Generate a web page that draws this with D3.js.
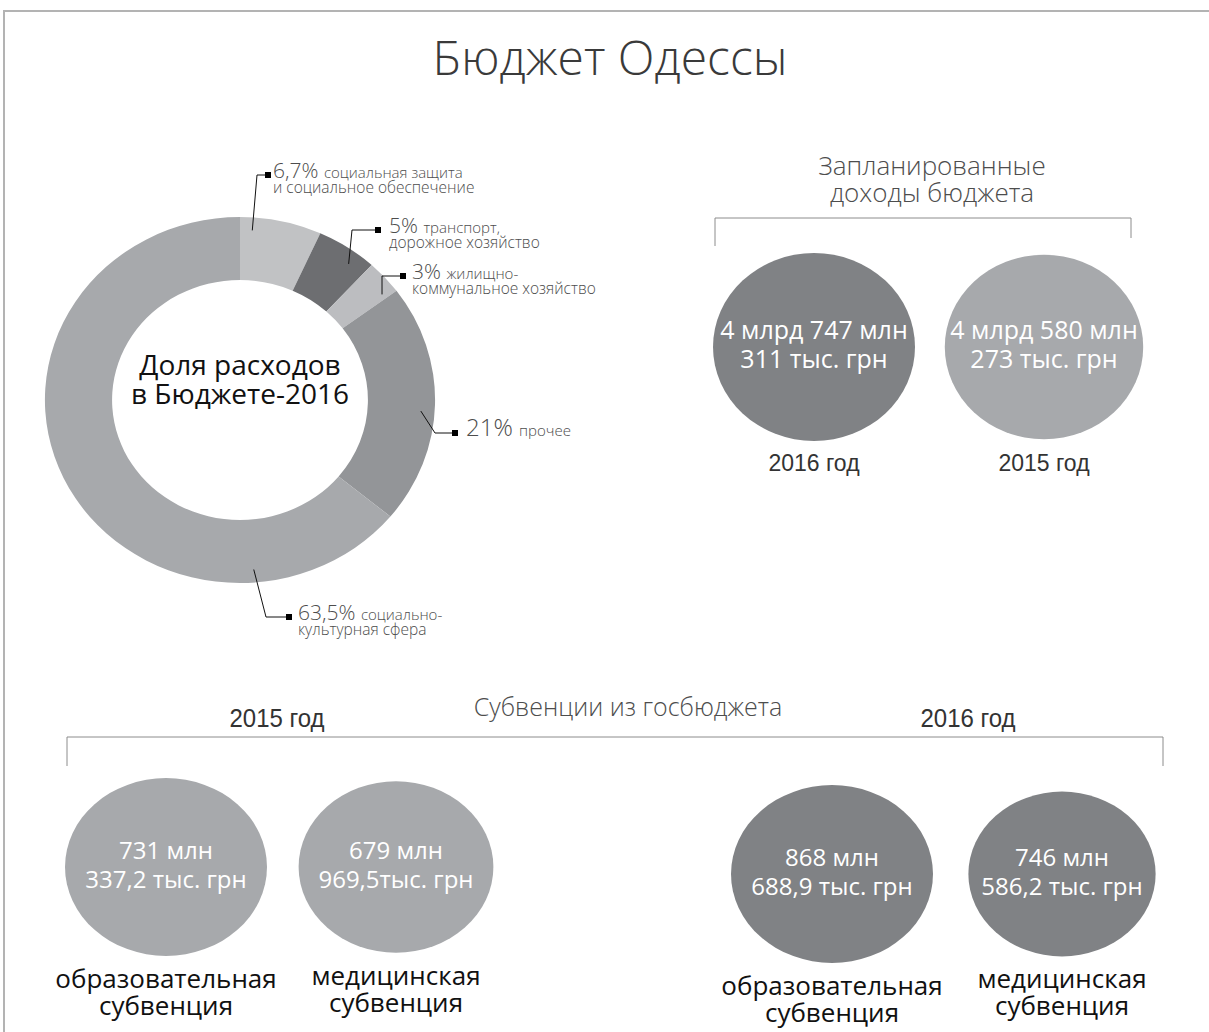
<!DOCTYPE html>
<html>
<head>
<meta charset="utf-8">
<script src="https://cdn.jsdelivr.net/npm/d3@7"></script>
<style>
body { margin: 0; background: #fff; }
svg { display: block; }
.hand { font-family: 'Open Sans', 'Noto Sans', sans-serif; }
.plain { font-family: 'Liberation Sans', Arial, sans-serif; }
</style>
</head>
<body>
<svg id="chart" width="1209" height="1032"></svg>
<script>
(function() {
'use strict';

// доля расходов, %
var sharePct = [6.7, 5, 3, 21, 63.5];
var sharePctText = ['6,7%', '5%', '3%', '21%', '63,5%'];
var shareText = [
    ['социальная защита', 'и социальное обеспечение'],
    ['транспорт,', 'дорожное хозяйство'],
    ['жилищно-', 'коммунальное хозяйство'],
    ['прочее'],
    ['социально-', 'культурная сфера']
];

// запланированные доходы, млн грн
var incomeYears = ['2016', '2015'];
var incomeValues = [4747.311, 4580.273];
var incomeText = [['4 млрд 747 млн', '311 тыс. грн'], ['4 млрд 580 млн', '273 тыс. грн']];

// субвенции, млн грн
var subYears = ['2015', '2016'];
var subKinds = [['образовательная', 'субвенция'], ['медицинская', 'субвенция']];
var subValues2015 = [731.3372, 679.9695];
var subValues2016 = [868.6889, 746.5862];
var subText2015 = [['731 млн', '337,2 тыс. грн'], ['679 млн', '969,5тыс. грн']];
var subText2016 = [['868 млн', '688,9 тыс. грн'], ['746 млн', '586,2 тыс. грн']];

// styles
var shareColors = ['#c1c2c4', '#6d6e71', '#bcbdc0', '#939598', '#a7a9ac'];
var yearColors = {'2016': '#808285', '2015': '#a7a9ac'};

var svg = d3.select('#chart');

// frame
svg.append('path')
    .attr('d', 'M4,1032 V11 H1209')
    .attr('fill', 'none')
    .attr('stroke', '#b3b3b3')
    .attr('stroke-width', 2);

svg.append('text')
    .attr('class', 'hand')
    .attr('x', 610).attr('y', 75)
    .attr('text-anchor', 'middle')
    .attr('font-size', 48)
    .attr('font-weight', 300)
    .attr('fill', '#3a3a3a')
    .text('Бюджет Одессы');

// ---- donut ----
var cx = 240, cy = 400, sx = 1.066;
var pie = d3.pie().sort(null).value(function(d) { return d; });
var arcs = pie(sharePct);
var arc = d3.arc().innerRadius(120).outerRadius(183);

var donut = svg.append('g')
    .attr('transform', 'translate(' + cx + ',' + cy + ') scale(' + sx + ',1)');
donut.selectAll('path')
    .data(arcs)
    .enter()
    .append('path')
    .attr('d', arc)
    .attr('fill', function(d, i) { return shareColors[i]; });

var centerText = svg.append('text')
    .attr('class', 'hand')
    .attr('text-anchor', 'middle')
    .attr('font-size', 28)
    .attr('fill', '#111');
centerText.append('tspan').attr('x', cx).attr('y', 375).text('Доля расходов');
centerText.append('tspan').attr('x', cx).attr('y', 404).text('в Бюджете-2016');

// leader layout: position inside slice, elbow and square offsets from the donut centre
var leaders = [
    {t: 0.16, ex: 17, ey: -225, qx: 28, gap: 5},
    {t: 0.69, ex: 112, ey: -170, qx: 138, gap: 11},
    {t: 0.84, ex: 142, ey: -124, qx: 163, gap: 9},
    {t: 0.53, ex: 195, ey: 33, qx: 215, gap: 11},
    {t: 0.2, ex: 26, ey: 217, qx: 49, gap: 9}
];

var labelG = svg.append('g').selectAll('g')
    .data(arcs)
    .enter()
    .append('g');

labelG.append('polyline')
    .attr('fill', 'none')
    .attr('stroke', '#111')
    .attr('stroke-width', 1)
    .attr('points', function(d, i) {
        var L = leaders[i];
        var a = d.startAngle + L.t * (d.endAngle - d.startAngle);
        var x0 = cx + Math.sin(a) * 170 * sx;
        var y0 = cy - Math.cos(a) * 170;
        return [[x0, y0], [cx + L.ex, cy + L.ey], [cx + L.qx, cy + L.ey]].join(' ');
    });

labelG.append('rect')
    .attr('width', 6).attr('height', 6)
    .attr('fill', '#000')
    .attr('x', function(d, i) { return cx + leaders[i].qx - 3; })
    .attr('y', function(d, i) { return cy + leaders[i].ey - 3; });

labelG.each(function(d, i) {
    var L = leaders[i];
    var tx = cx + L.qx + L.gap;
    var ty = cy + L.ey + 3;
    var t = d3.select(this).append('text')
        .attr('class', 'hand')
        .attr('font-weight', 300)
        .attr('fill', '#4d4d4d');
    var first = t.append('tspan').attr('x', tx).attr('y', ty);
    first.append('tspan')
        .attr('font-size', sharePct[i] === 21 ? 24 : 21)
        .text(sharePctText[i] + ' ');
    first.append('tspan').attr('font-size', 15).text(shareText[i][0]);
    if (shareText[i][1]) {
        t.append('tspan').attr('x', tx).attr('y', ty + 15)
            .attr('font-size', 15.5)
            .text(shareText[i][1]);
    }
});

// ---- запланированные доходы ----
var incomeX = d3.scalePoint().domain(incomeYears).range([814, 1044]);
var incomeR = d3.scaleSqrt().domain([0, d3.max(incomeValues)]).range([0, 101]);
var incomeCy = 347, incomeSquash = 0.93;

svg.append('path')
    .attr('d', 'M715,246 V218 H1131 V238')
    .attr('fill', 'none')
    .attr('stroke', '#8c8c8c')
    .attr('stroke-width', 1);

var incTitle = svg.append('text')
    .attr('class', 'hand')
    .attr('text-anchor', 'middle')
    .attr('font-size', 26)
    .attr('font-weight', 300)
    .attr('fill', '#4d4d4d');
incTitle.append('tspan').attr('x', 932).attr('y', 175).text('Запланированные');
incTitle.append('tspan').attr('x', 932).attr('y', 202).text('доходы бюджета');

var incG = svg.append('g').selectAll('g')
    .data(incomeYears)
    .enter()
    .append('g');

incG.append('ellipse')
    .attr('cx', function(d) { return incomeX(d); })
    .attr('cy', incomeCy)
    .attr('rx', function(d, i) { return incomeR(incomeValues[i]); })
    .attr('ry', function(d, i) { return incomeR(incomeValues[i]) * incomeSquash; })
    .attr('fill', function(d) { return yearColors[d]; });

incG.append('text')
    .attr('class', 'hand')
    .attr('text-anchor', 'middle')
    .attr('font-size', 25)
    .attr('fill', '#fff')
    .each(function(d, i) {
        var t = d3.select(this);
        t.append('tspan').attr('x', incomeX(d)).attr('y', incomeCy - 8).text(incomeText[i][0]);
        t.append('tspan').attr('x', incomeX(d)).attr('y', incomeCy + 21).text(incomeText[i][1]);
    });

incG.append('text')
    .attr('class', 'plain')
    .attr('text-anchor', 'middle')
    .attr('font-size', 23)
    .attr('fill', '#333')
    .attr('x', function(d) { return incomeX(d); })
    .attr('y', 471)
    .text(function(d) { return d + ' год'; });

// ---- субвенции ----
var subX = d3.scalePoint().domain(subYears).range([166, 832]);
var kindX = d3.scalePoint().domain([0, 1]).range([0, 230]);
var subCy = {'2015': 867, '2016': 874};
var yearLabelDx = {'2015': 111, '2016': 136};
var subSquash = 0.88;

svg.append('path')
    .attr('d', 'M67,766 V737 H1163 V766')
    .attr('fill', 'none')
    .attr('stroke', '#8c8c8c')
    .attr('stroke-width', 1);

svg.append('text')
    .attr('class', 'hand')
    .attr('x', 628).attr('y', 716)
    .attr('text-anchor', 'middle')
    .attr('font-size', 25)
    .attr('font-weight', 300)
    .attr('fill', '#4d4d4d')
    .text('Субвенции из госбюджета');

svg.append('g').selectAll('text')
    .data(subYears)
    .enter()
    .append('text')
    .attr('class', 'plain')
    .attr('text-anchor', 'middle')
    .attr('font-size', 25)
    .attr('fill', '#333')
    .attr('x', function(d) { return subX(d) + yearLabelDx[d]; })
    .attr('y', 727)
    .attr('textLength', 95)
    .attr('lengthAdjust', 'spacingAndGlyphs')
    .text(function(d) { return d + ' год'; });

var subData = [];
[subValues2015, subValues2016].forEach(function(vals, gi) {
    var year = subYears[gi];
    var r = d3.scaleSqrt().domain([0, d3.max(vals)]).range([0, 101]);
    var texts = gi === 0 ? subText2015 : subText2016;
    vals.forEach(function(v, k) {
        subData.push({year: year, k: k, r: r(v), text: texts[k], kind: subKinds[k]});
    });
});

var subG = svg.append('g').selectAll('g')
    .data(subData)
    .enter()
    .append('g');

subG.append('ellipse')
    .attr('cx', function(d) { return subX(d.year) + kindX(d.k); })
    .attr('cy', function(d) { return subCy[d.year]; })
    .attr('rx', function(d) { return d.r; })
    .attr('ry', function(d) { return d.r * subSquash; })
    .attr('fill', function(d) { return yearColors[d.year]; });

subG.append('text')
    .attr('class', 'hand')
    .attr('text-anchor', 'middle')
    .attr('font-size', 24)
    .attr('fill', '#fff')
    .each(function(d) {
        var t = d3.select(this);
        var x = subX(d.year) + kindX(d.k);
        t.append('tspan').attr('x', x).attr('y', subCy[d.year] - 8).text(d.text[0]);
        t.append('tspan').attr('x', x).attr('y', subCy[d.year] + 21).text(d.text[1]);
    });

subG.append('text')
    .attr('class', 'hand')
    .attr('text-anchor', 'middle')
    .attr('font-size', 26)
    .attr('fill', '#111')
    .each(function(d) {
        var t = d3.select(this);
        var x = subX(d.year) + kindX(d.k);
        var y = subCy[d.year] + d.r * subSquash + 32;
        t.append('tspan').attr('x', x).attr('y', y).text(d.kind[0]);
        t.append('tspan').attr('x', x).attr('y', y + 27).text(d.kind[1]);
    });

})();
</script>
</body>
</html>
